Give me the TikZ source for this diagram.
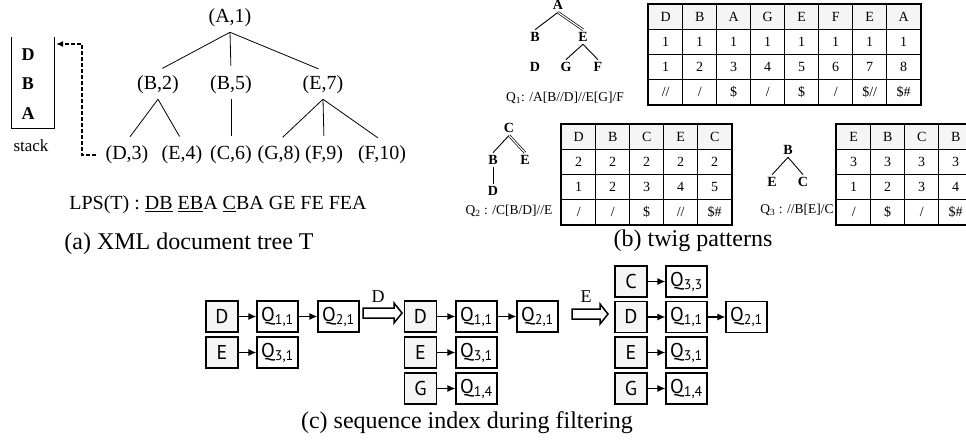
\documentclass[tikz,border=0pt]{standalone}
\usepackage{fontspec}
\setmainfont{Liberation Serif}
\newfontfamily\boxfont{PT Sans}
\usepackage{tikz}
\usetikzlibrary{arrows.meta}
\usetikzlibrary{matrix}

\begin{document}
\begin{tikzpicture}[
    x=1pt, y=-1pt,
    treenode/.style={inner sep=5pt, font=\fontsize{20}{24}\selectfont},
    edge/.style={line width=0.8pt, shorten >=5pt},
    stackitem/.style={inner sep=0pt, font=\fontsize{18}{20}\selectfont\bfseries},
    qnode/.style={inner sep=2.5pt, font=\fontsize{14}{16}\selectfont\bfseries},
    qedge/.style={line width=0.9pt},
    adedge/.style={double, double distance=1.2pt, line width=0.7pt},
    qlabel/.style={font=\fontsize{13.5}{16}\selectfont},
    caption/.style={font=\fontsize{24}{28}\selectfont},
    cell/.style={draw, line width=1pt, minimum width=34pt, minimum height=25pt, inner sep=0pt, font=\fontsize{14}{16}\selectfont},
    qtable/.style={matrix of nodes, inner sep=0pt, nodes={cell}, column sep=-1pt, row sep=-1pt, row 1/.style={nodes={fill=gray!8}}},
    frame/.style={line width=1.5pt},
    keybox/.style={draw, line width=1.2pt, fill=gray!8, minimum width=32pt, minimum height=31pt, inner sep=0pt, font=\boxfont\fontsize{20}{22}\selectfont},
    qbox/.style={keybox, fill=white, minimum width=41pt},
    link/.style={-{Latex[length=8pt,width=7pt]}, line width=1.3pt},
    bigarrow/.style={draw, line width=1.5pt, line join=miter}
]

    \useasboundingbox (0,0) rectangle (966,445);

    % 1. XML document tree
    \node[treenode] (a1) at (230,18) {(A,1)};
    \node[treenode] (b2) at (158,85) {(B,2)};
    \node[treenode] (b5) at (231,85) {(B,5)};
    \node[treenode] (e7) at (323,85) {(E,7)};
    \node[treenode] (d3) at (127,155) {(D,3)};
    \node[treenode] (e4) at (182,155) {(E,4)};
    \node[treenode] (c6) at (231,155) {(C,6)};
    \node[treenode] (g8) at (279,155) {(G,8)};
    \node[treenode] (f9) at (324,155) {(F,9)};
    \node[treenode] (f10) at (382,155) {(F,10)};

    \draw[edge] (a1.south) -- (b2.north);
    \draw[edge] (a1.south) -- (b5.north);
    \draw[edge] (a1.south) -- (e7.north);
    \draw[edge] (b2.south) -- (d3.north);
    \draw[edge] (b2.south) -- (e4.north);
    \draw[edge] (b5.south) -- (c6.north);
    \draw[edge] (e7.south) -- (g8.north);
    \draw[edge] (e7.south) -- (f9.north);
    \draw[edge] (e7.south) -- (f10.north);

    % stack
    \draw[line width=1pt] (11,37) -- (11,128) -- (54,128) -- (54,37);
    \node[stackitem] (sd) at (28,55) {D};
    \node[stackitem] (sb) at (28,84) {B};
    \node[stackitem] (sa) at (28,114) {A};
    \node[font=\fontsize{17}{20}\selectfont] (stack) at (31,146) {stack};

    \coordinate (bend) at (82,44);
    \coordinate (stk) at (56,44);
    \draw[line width=1.4pt, dash pattern=on 4pt off 2pt, shorten <=4pt, -{Latex[length=7pt,width=6pt]}] (d3.west) -| (bend) -- (stk);

    \node[treenode] (lps) at (218,205) {LPS(T) : \underline{DB} \underline{EB}A \underline{C}BA GE FE FEA};
    \node[caption] (capa) at (189,244) {(a) XML document tree T};

    % 2. twig patterns
    % Q1
    \node[qnode] (q1a) at (558,5) {A};
    \node[qnode] (q1b) at (535,37) {B};
    \node[qnode] (q1e) at (583,37) {E};
    \node[qnode] (q1d) at (535,67) {D};
    \node[qnode] (q1g) at (566,67) {G};
    \node[qnode] (q1f) at (598,67) {F};
    \draw[qedge] (q1a.south) -- (q1b.north);
    \draw[adedge] (q1a.south) -- (q1e.north);
    \draw[adedge] (q1b) -- (q1d);
    \draw[qedge] (q1e.south) -- (q1g.north);
    \draw[qedge] (q1e.south) -- (q1f.north);
    \node[qlabel] (l1) at (565,98) {Q\textsubscript{1}: /A[B//D]//E[G]/F};

    \matrix (t1) [qtable, anchor=north west] at (648,4) {
        D & B & A & G & E & F & E & A \\
        1 & 1 & 1 & 1 & 1 & 1 & 1 & 1 \\
        1 & 2 & 3 & 4 & 5 & 6 & 7 & 8 \\
        // & / & \$ & / & \$ & / & \$// & \$\# \\
    };
    \draw[frame] (t1.north west) rectangle (t1.south east);

    % Q2
    \node[qnode] (q2c) at (509,128) {C};
    \node[qnode] (q2b) at (493,160) {B};
    \node[qnode] (q2e) at (525,160) {E};
    \node[qnode] (q2d) at (493,191) {D};
    \draw[qedge] (q2c.south) -- (q2b.north);
    \draw[adedge] (q2c.south) -- (q2e.north);
    \draw[qedge] (q2b) -- (q2d);
    \node[qlabel] (l2) at (509,211) {Q\textsubscript{2} : /C[B/D]//E};

    \matrix (t2) [qtable, anchor=north west] at (561,124) {
        D & B & C & E & C \\
        2 & 2 & 2 & 2 & 2 \\
        1 & 2 & 3 & 4 & 5 \\
        / & / & \$ & // & \$\# \\
    };
    \draw[frame] (t2.north west) rectangle (t2.south east);

    % Q3
    \node[qnode] (q3b) at (788,150) {B};
    \node[qnode] (q3e) at (772,182) {E};
    \node[qnode] (q3c) at (803,182) {C};
    \draw[qedge] (q3b.south) -- (q3e.north);
    \draw[qedge] (q3b.south) -- (q3c.north);
    \node[qlabel] (l3) at (797,210) {Q\textsubscript{3} : //B[E]/C};

    \matrix (t3) [qtable, anchor=north west] at (836,124) {
        E & B & C & B \\
        3 & 3 & 3 & 3 \\
        1 & 2 & 3 & 4 \\
        / & \$ & / & \$\# \\
    };
    \draw[frame] (t3.north west) rectangle (t3.south east);

    \node[caption] (capb) at (693,241) {(b) twig patterns};

    % 3. sequence index
    \node[keybox] (d1) at (222,316.5) {D};
    \node[qbox] (d1q11) at (277.5,316.5) {Q\textsubscript{1,1}};
    \node[qbox] (d1q21) at (338.5,316.5) {Q\textsubscript{2,1}};
    \node[keybox] (e1) at (222,352.5) {E};
    \node[qbox] (e1q31) at (277.5,352.5) {Q\textsubscript{3,1}};
    \draw[link] (d1) -- (d1q11);
    \draw[link] (d1q11) -- (d1q21);
    \draw[link] (e1) -- (e1q31);

    \coordinate (h1) at (363,313);
    \draw[bigarrow] (h1) ++(0,-5) -- ++(31,0) -- ++(0,-5) -- ++(8,10) -- ++(-8,10) -- ++(0,-5) -- ++(-31,0) -- cycle;
    \node[font=\fontsize{18}{20}\selectfont] (ld) at (378,297) {D};

    \node[keybox] (d2) at (420.5,316.5) {D};
    \node[qbox] (d2q11) at (476.5,316.5) {Q\textsubscript{1,1}};
    \node[qbox] (d2q21) at (537.5,316.5) {Q\textsubscript{2,1}};
    \node[keybox] (e2) at (420.5,352.5) {E};
    \node[qbox] (e2q31) at (476.5,352.5) {Q\textsubscript{3,1}};
    \node[keybox] (g2) at (420.5,388.5) {G};
    \node[qbox] (g2q14) at (476.5,388.5) {Q\textsubscript{1,4}};
    \draw[link] (d2) -- (d2q11);
    \draw[link] (d2q11) -- (d2q21);
    \draw[link] (e2) -- (e2q31);
    \draw[link] (g2) -- (g2q14);

    \coordinate (h2) at (572,314);
    \draw[bigarrow] (h2) ++(0,-5) -- ++(28,0) -- ++(0,-5) -- ++(8,10) -- ++(-8,10) -- ++(0,-5) -- ++(-28,0) -- cycle;
    \node[font=\fontsize{18}{20}\selectfont] (le) at (586,297) {E};

    \node[keybox] (c3) at (631,281.5) {C};
    \node[qbox] (c3q33) at (686.5,281.5) {Q\textsubscript{3,3}};
    \node[keybox] (d3k) at (631,317) {D};
    \node[qbox] (d3q11) at (686.5,317) {Q\textsubscript{1,1}};
    \node[qbox] (d3q21) at (746.5,317) {Q\textsubscript{2,1}};
    \node[keybox] (e3) at (631,352.5) {E};
    \node[qbox] (e3q31) at (686.5,352.5) {Q\textsubscript{3,1}};
    \node[keybox] (g3) at (631,388.5) {G};
    \node[qbox] (g3q14) at (686.5,388.5) {Q\textsubscript{1,4}};
    \draw[link] (c3) -- (c3q33);
    \draw[link] (d3k) -- (d3q11);
    \draw[link] (d3q11) -- (d3q21);
    \draw[link] (e3) -- (e3q31);
    \draw[link] (g3) -- (g3q14);

    \node[caption] (capc) at (467,423) {(c) sequence index during filtering};

\end{tikzpicture}
\end{document}
